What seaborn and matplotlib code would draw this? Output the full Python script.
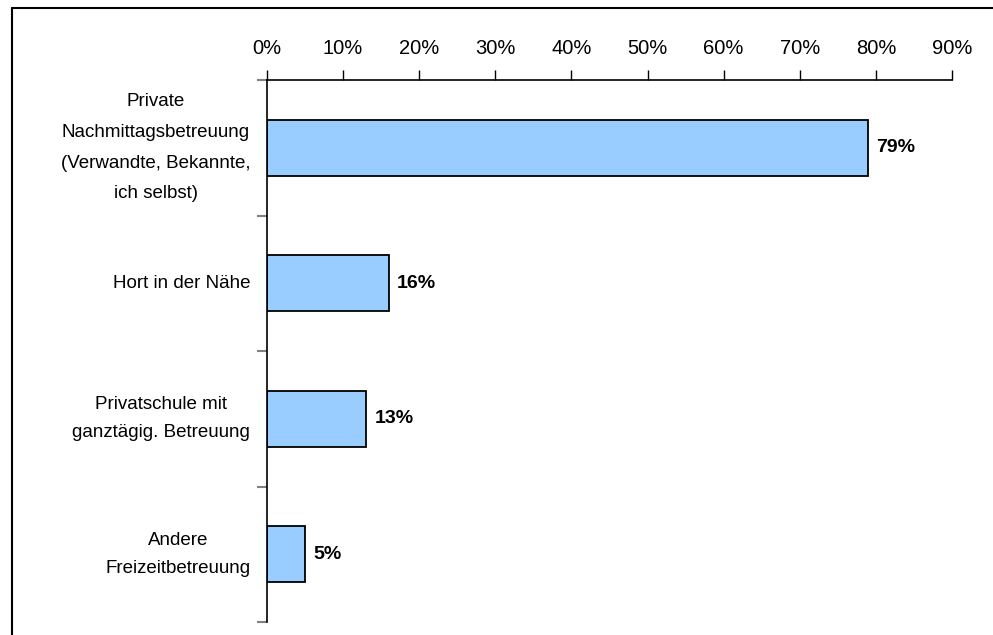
import pandas as pd
import matplotlib.pyplot as plt
import seaborn as sns
from matplotlib.lines import Line2D
from matplotlib.ticker import FixedLocator, PercentFormatter

# =========================
# DATA
# =========================
categories = [
    "Private\nNachmittagsbetreuung\n(Verwandte, Bekannte,\nich selbst)",
    "Hort in der Nähe",
    "Privatschule mit\nganztägig. Betreuung",
    "Andere\nFreizeitbetreuung",
]
values = [79, 16, 13, 5]
x_ticks = [0, 10, 20, 30, 40, 50, 60, 70, 80, 90]

df = pd.DataFrame({"Kategorie": categories, "Anteil": values})

# =========================
# STYLE
# =========================
sns.set_theme(style="white")
plt.rcParams["font.family"] = ["Liberation Sans", "DejaVu Sans"]

# =========================
# FIGURE
# =========================
fig = plt.figure(figsize=(9.93, 6.35), dpi=100)
ax = fig.add_axes([267 / 993, 1 - 622 / 635, (952 - 267) / 993, (622 - 80) / 635])

sns.barplot(
    data=df,
    y="Kategorie",
    x="Anteil",
    orient="h",
    color="#99CCFF",
    saturation=1,
    edgecolor="black",
    linewidth=1.3,
    width=0.41,
    ax=ax,
)

# value labels
for cont in ax.containers:
    ax.bar_label(cont, labels=[f"{v}%" for v in values], padding=6,
                 fontsize=14, fontweight="bold", color="black")

# x axis on top
ax.set_xlim(0, 90)
ax.xaxis.set_ticks_position("top")
ax.xaxis.set_label_position("top")
ax.set_xticks(x_ticks)
ax.xaxis.set_major_formatter(PercentFormatter(decimals=0))
ax.tick_params(axis="x", direction="out", length=7, width=1, color="black",
               labelsize=14.5, pad=9, labelcolor="black")

# y axis: ticks at category boundaries
ax.set_ylim(len(categories) - 0.5, -0.5)
ax.tick_params(axis="y", which="major", length=0, labelsize=13.5, pad=12,
               labelcolor="black")
ax.yaxis.set_minor_locator(FixedLocator([i - 0.5 for i in range(len(categories) + 1)]))
ax.tick_params(axis="y", which="minor", direction="out", length=7, width=1.5,
               color="#808080", left=True)
for lab in ax.get_yticklabels():
    lab.set_multialignment("center")
    lab.set_verticalalignment("center")
    n_lines = lab.get_text().count("\n") + 1
    lab.set_linespacing(2.05 if n_lines > 2 else 1.85)

ax.set_xlabel("")
ax.set_ylabel("")

for side in ["right", "bottom"]:
    ax.spines[side].set_visible(False)
for side in ["top", "left"]:
    ax.spines[side].set_color("black")
    ax.spines[side].set_linewidth(1.2)

# outer frame (top and left edges)
fig.add_artist(Line2D([12 / 993, 12 / 993], [0, 1 - 8 / 635], color="black", linewidth=1.5))
fig.add_artist(Line2D([12 / 993, 1], [1 - 8 / 635, 1 - 8 / 635], color="black", linewidth=1.5))

# =========================
# SAVE FIGURE
# =========================
plt.savefig("out.png", dpi=100)
